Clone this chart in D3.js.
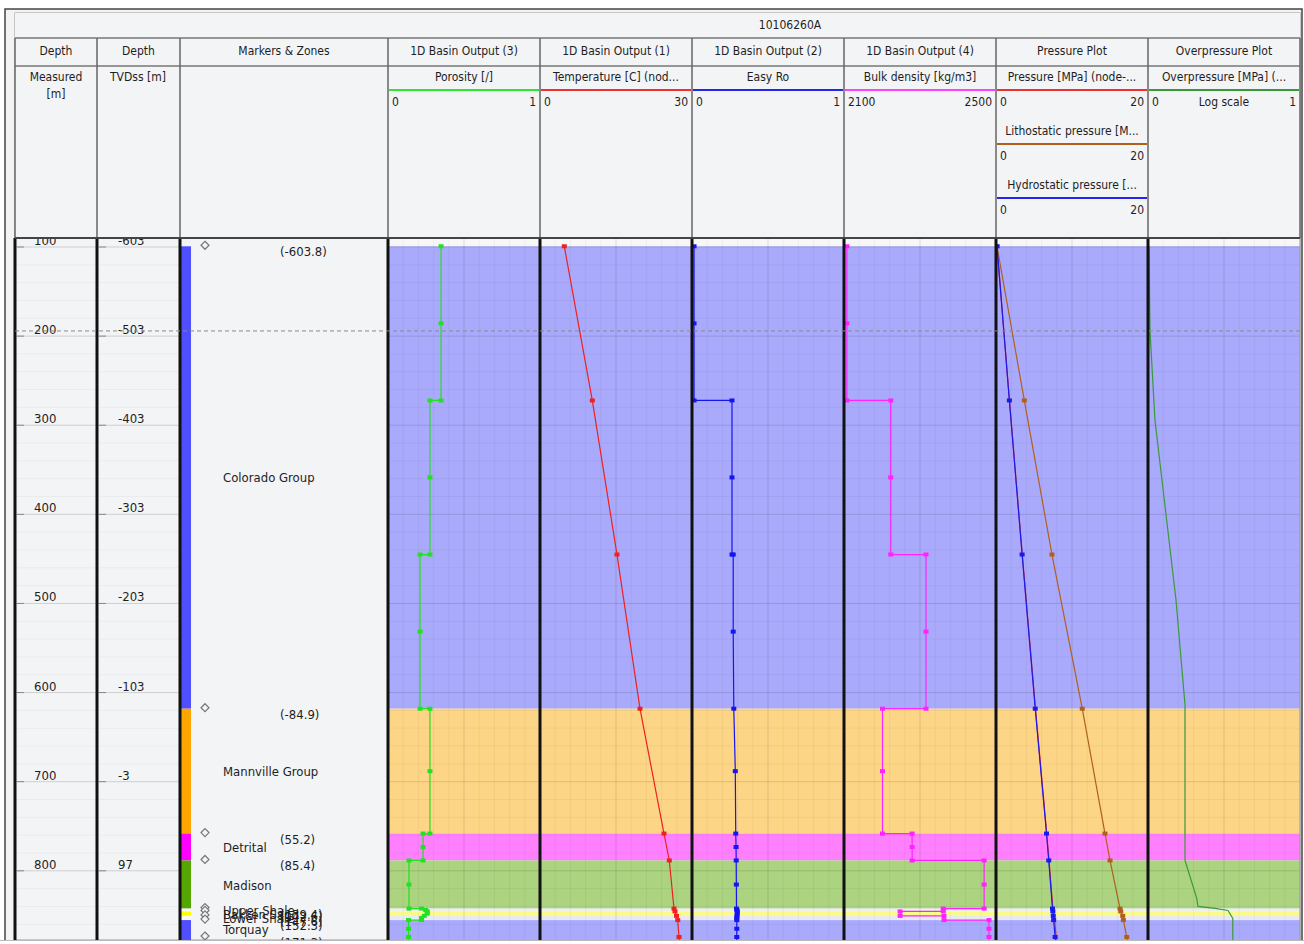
<!DOCTYPE html>
<html>
<head>
<meta charset="utf-8">
<script src="https://cdn.jsdelivr.net/npm/d3@7"></script>
<style>
  body { margin: 0; background: #fff; }
  text { font-family: "DejaVu Sans Condensed", "DejaVu Sans", sans-serif; fill: #1e1e1e; }
</style>
</head>
<body>
<div id="graph"></div>
<script>
const width = 1304, height = 944;
const wellName = "10106260A";
const kb = 703; // MD = TVDss + kb

// depth axis
const mdTicks = [100, 200, 300, 400, 500, 600, 700, 800];
const tvdTicks = ["-603", "-503", "-403", "-303", "-203", "-103", "-3", "97"];
const cursorDepth = 194.2;

// markers & zones (tops in TVDss)
const zoneNames = ["Colorado Group", "Mannville Group", "Detrital", "Madison", "Upper Shale", "Bakken Sand", "Lower Shale", "Torquay", ""];
const zoneTops = [-603.8, -84.9, 55.2, 85.4, 139.4, 142.6, 147.6, 152.3, 171.3];
const zoneStrip = ["#4f4fff", "#ffa500", "#ff00ff", "#55a600", "#f8f8f8", "#ffff00", "#f8f8f8", "#4f4fff", "#4f4fff"];
const zoneFill = ["#aaaafc", "#fdd586", "#ff80ff", "#abd380", "#efefef", "#fafa8a", "#e9e9f0", "#aaaafc", "#aaaafc"];

// columns
const colTitles = ["Depth", "Depth", "Markers & Zones", "1D Basin Output (3)", "1D Basin Output (1)", "1D Basin Output (2)", "1D Basin Output (4)", "Pressure Plot", "Overpressure Plot"];
const curveTitles = ["Porosity [/]", "Temperature [C] (nod...", "Easy Ro", "Bulk density [kg/m3]", "Pressure [MPa] (node-...", "Overpressure [MPa] (..."];
const curveColors = ["#2fe62f", "#ee3030", "#2525ee", "#ff40ff", "#ee3030", "#3a9a3a"];
const scaleMin = ["0", "0", "0", "2100", "0", "0"];
const scaleMax = ["1", "30", "1", "2500", "20", "1"];

// curves: [MD, value]
const porosity = [[99.2, 0.347], [185.7, 0.347], [272.2, 0.347], [272.2, 0.273], [358.6, 0.273], [445.1, 0.273], [445.1, 0.207], [531.6, 0.207], [618.1, 0.207], [618.1, 0.273], [688.2, 0.273], [758.2, 0.273], [758.2, 0.227], [773.3, 0.227], [788.4, 0.227], [788.4, 0.133], [815.4, 0.133], [842.4, 0.133], [842.4, 0.217], [844.0, 0.245], [845.6, 0.255], [848.1, 0.255], [850.6, 0.235], [852.9, 0.217], [855.3, 0.217], [855.3, 0.13], [865.0, 0.13], [874.3, 0.13], [884, 0.13]];
const temperature = [[99.2, 4.66], [272.2, 10.26], [445.1, 15.2], [618.1, 19.8], [758.2, 24.6], [788.4, 25.66], [842.4, 26.6], [845.6, 26.8], [850.6, 27.1], [855.3, 27.35], [874.3, 27.6], [884, 27.7]];
const easyRo = [[99.2, 0.007], [185.7, 0.007], [272.2, 0.007], [272.2, 0.26], [358.6, 0.26], [445.1, 0.26], [445.1, 0.268], [531.6, 0.268], [618.1, 0.272], [688.2, 0.282], [758.2, 0.285], [773.3, 0.287], [788.4, 0.288], [815.4, 0.289], [842.4, 0.29], [844.0, 0.293], [845.6, 0.295], [848.1, 0.295], [850.6, 0.293], [852.9, 0.292], [855.3, 0.292], [865.0, 0.292], [874.3, 0.292], [884, 0.292]];
const density = [[99.2, 2105], [185.7, 2105], [272.2, 2105], [272.2, 2222], [358.6, 2222], [445.1, 2222], [445.1, 2316], [531.6, 2316], [618.1, 2316], [618.1, 2200], [688.2, 2200], [758.2, 2200], [758.2, 2279], [773.3, 2279], [788.4, 2279], [788.4, 2471], [815.4, 2471], [842.4, 2471], [842.4, 2362], [845.6, 2362], [845.6, 2247], [850.6, 2247], [850.6, 2364], [855.3, 2364], [855.3, 2484], [865.0, 2484], [874.3, 2484], [884, 2484]];

const pressureDepths = [99.2, 272.2, 445.1, 618.1, 758.2, 788.4, 842.4, 845.6, 850.6, 855.3, 874.3, 884];
const porePressure = [0, 1.66, 3.37, 5.13, 6.63, 6.93, 7.45, 7.53, 7.62, 7.68, 7.88, 7.96];
const lithostatic = [0, 3.64, 7.33, 11.37, 14.4, 15.07, 16.4, 16.5, 16.76, 16.85, 17.3, 17.45];
const hydrostatic = [0, 1.65, 3.35, 5.1, 6.6, 6.9, 7.4, 7.45, 7.5, 7.55, 7.75, 7.83];

const overDepths = [99.2, 193, 294, 496, 613.6, 788.4, 831, 840, 842.2, 844.5, 853.5, 884];
const overpressure = [0.0100, 0.0103, 0.012, 0.0229, 0.0302, 0.0302, 0.0433, 0.045, 0.076, 0.113, 0.131, 0.131];

// layout
const cols = [15, 97, 180, 388, 540, 692, 844, 996, 1148, 1300];
const topY = 238, bottomY = 940;

let svg =
d3.select("#graph").
append("svg").
attr("width", width).
attr("height", height);

const y = d3.scaleLinear().domain([100, 800]).range([247, 870.8]);
const md = tvd => tvd + kb;

// frame + backgrounds
svg.append("rect").attr("x", 5).attr("y", 9).attr("width", 1297).attr("height", 934).
attr("fill", "#f3f3f3").attr("stroke", "#444").attr("stroke-width", 1.5);
svg.append("rect").attr("x", cols[0]).attr("y", 13).attr("width", cols[9] - cols[0]).attr("height", bottomY - 13).
attr("fill", "#f3f4f6").attr("stroke", "#999");

const defs = svg.append("defs");
for (let k = 0; k < 9; k++) {
  defs.append("clipPath").attr("id", "clip" + k).append("rect").
  attr("x", cols[k]).attr("y", topY).attr("width", cols[k + 1] - cols[k]).attr("height", bottomY - topY);
}

const zoneY = zoneTops.map(t => y(md(t)));
const zoneEnd = zoneY.map((v, i) => i < zoneY.length - 1 ? zoneY[i + 1] : bottomY);

// track fills and grids
for (let k = 3; k < 9; k++) {
  const g = svg.append("g").attr("clip-path", "url(#clip" + k + ")");
  const x0 = cols[k], x1 = cols[k + 1];
  g.append("rect").attr("x", x0).attr("y", topY).attr("width", x1 - x0).attr("height", bottomY - topY).attr("fill", "#f7f7f7");
  g.selectAll(".zone").data(zoneY).enter().append("rect").
  attr("x", x0).attr("y", d => d).attr("width", x1 - x0).attr("height", (d, i) => zoneEnd[i] - d).
  attr("fill", (d, i) => zoneFill[i]);
  g.selectAll(".hg").data(d3.range(80, 900, 20)).enter().append("line").
  attr("x1", x0).attr("x2", x1).attr("y1", d => y(d)).attr("y2", d => y(d)).
  attr("stroke", d => d % 100 === 0 ? "rgba(0,0,0,0.12)" : "rgba(0,0,0,0.045)");
  g.selectAll(".vg").data(d3.range(1, 10)).enter().append("line").
  attr("x1", d => x0 + (x1 - x0) * d / 10).attr("x2", d => x0 + (x1 - x0) * d / 10).
  attr("y1", topY).attr("y2", bottomY).
  attr("stroke", d => d === 5 ? "rgba(0,0,0,0.12)" : "rgba(0,0,0,0.045)");
}

// depth columns grid + labels
for (let k = 0; k < 2; k++) {
  const g = svg.append("g").attr("clip-path", "url(#clip" + k + ")");
  const x0 = cols[k], x1 = cols[k + 1];
  g.selectAll(".hg").data(d3.range(80, 900, 20)).enter().append("line").
  attr("x1", x0).attr("x2", x1).attr("y1", d => y(d)).attr("y2", d => y(d)).
  attr("stroke", d => d % 100 === 0 ? "#cfcfcf" : "rgba(0,0,0,0.04)");
  g.selectAll(".tk").data(mdTicks).enter().append("line").
  attr("x1", x0 + 2).attr("x2", x0 + 9).attr("y1", d => y(d)).attr("y2", d => y(d)).
  attr("stroke", "#888");
  g.selectAll(".lab").data(mdTicks).enter().append("text").
  attr("x", k === 0 ? 34 : 118).attr("y", d => y(d) - 2).
  attr("font-size", 13).
  text((d, i) => k === 0 ? d : tvdTicks[i]);
}

// markers & zones column
const mz = svg.append("g").attr("clip-path", "url(#clip2)");
mz.selectAll(".strip").data(zoneY).enter().append("rect").
attr("x", cols[2] + 1).attr("y", d => d).attr("width", 10).attr("height", (d, i) => zoneEnd[i] - d).
attr("fill", (d, i) => zoneStrip[i]);
mz.selectAll(".dia").data(zoneY).enter().append("path").
attr("d", d => "M205," + (d - 5) + "L209," + (d - 1) + "L205," + (d + 3) + "L201," + (d - 1) + "Z").
attr("fill", "#f3f4f6").attr("stroke", "#777").attr("stroke-width", 1.2);
mz.selectAll(".val").data(zoneTops).enter().append("text").
attr("x", 280).attr("y", (d, i) => zoneY[i] + 10).attr("font-size", 13).attr("fill", "#333").
text(d => "(" + d.toFixed(1) + ")");
mz.selectAll(".zn").data(zoneNames).enter().append("text").
attr("x", 223).attr("y", (d, i) => (zoneY[i] + Math.min(zoneEnd[i], bottomY)) / 2 + 5).
attr("font-size", 13).attr("fill", "#333").
text(d => d);

// curves
function trackX(k, domain, log) {
  return (log ? d3.scaleLog() : d3.scaleLinear()).domain(domain).range([cols[k] + 1, cols[k + 1] - 1]);
}
function drawCurve(k, xs, pts, color, markers) {
  const g = svg.append("g").attr("clip-path", "url(#clip" + k + ")");
  g.append("path").datum(pts).
  attr("d", d3.line().x(p => xs(p[1])).y(p => y(p[0]))).
  attr("fill", "none").attr("stroke", color).attr("stroke-width", 1.2);
  if (markers) {
    g.selectAll(".mk").data(pts).enter().append("rect").
    attr("x", p => xs(p[1]) - 2.5).attr("y", p => y(p[0]) - 2).
    attr("width", 5).attr("height", 4).attr("fill", color);
  }
}
const zip = (ds, vs) => ds.map((d, i) => [d, vs[i]]);

drawCurve(3, trackX(3, [0, 1]), porosity, "#22e022", true);
drawCurve(4, trackX(4, [0, 30]), temperature, "#ee2020", true);
drawCurve(5, trackX(5, [0, 1]), easyRo, "#1515f0", true);
drawCurve(6, trackX(6, [2100, 2500]), density, "#ff22ff", true);
const px = trackX(7, [0, 20]);
drawCurve(7, px, zip(pressureDepths, porePressure), "#ee2020", false);
drawCurve(7, px, zip(pressureDepths, lithostatic), "#b0601c", true);
drawCurve(7, px, zip(pressureDepths, hydrostatic), "#1a1aee", true);
drawCurve(8, trackX(8, [0.01, 1], true), zip(overDepths, overpressure), "#3a9a3a", false);

// column separators in data area
svg.selectAll(".sep").data(cols.slice(0, 9)).enter().append("line").
attr("x1", d => d).attr("x2", d => d).attr("y1", topY).attr("y2", bottomY).
attr("stroke", "#111").attr("stroke-width", 3);
svg.append("line").attr("x1", cols[9]).attr("x2", cols[9]).attr("y1", topY).attr("y2", bottomY).
attr("stroke", "#999").attr("stroke-width", 1);

// cursor line
svg.append("line").attr("x1", cols[0]).attr("x2", cols[9]).attr("y1", y(cursorDepth)).attr("y2", y(cursorDepth)).
attr("stroke", "#8a8a8a").attr("stroke-width", 1).attr("stroke-dasharray", "4,3");

// bottom edge
svg.append("rect").attr("x", 0).attr("y", bottomY + 1).attr("width", width).attr("height", height - bottomY).attr("fill", "#fff");
svg.append("line").attr("x1", 0).attr("x2", width).attr("y1", bottomY + 0.5).attr("y2", bottomY + 0.5).attr("stroke", "#bbb");

// header
const hd = svg.append("g");
hd.append("rect").attr("x", cols[0]).attr("y", 13).attr("width", cols[9] - cols[0]).attr("height", topY - 13).attr("fill", "#f3f4f6");
hd.append("text").attr("x", 790).attr("y", 29).attr("font-size", 12).attr("text-anchor", "middle").text(wellName);
[38, 66].forEach(v => hd.append("line").attr("x1", cols[0]).attr("x2", cols[9]).attr("y1", v).attr("y2", v).attr("stroke", "#777").attr("stroke-width", 1.5));
hd.selectAll(".hsep").data(cols).enter().append("line").
attr("x1", d => d).attr("x2", d => d).attr("y1", 38).attr("y2", topY).
attr("stroke", "#666").attr("stroke-width", 1.5);
hd.append("line").attr("x1", cols[0]).attr("x2", cols[9]).attr("y1", topY).attr("y2", topY).attr("stroke", "#444").attr("stroke-width", 2);

hd.selectAll(".ct").data(colTitles).enter().append("text").
attr("x", (d, i) => (cols[i] + cols[i + 1]) / 2).attr("y", 55).
attr("font-size", 12).attr("text-anchor", "middle").text(d => d);
hd.append("text").attr("x", 56).attr("y", 81).attr("font-size", 12).attr("text-anchor", "middle").text("Measured");
hd.append("text").attr("x", 56).attr("y", 98).attr("font-size", 12).attr("text-anchor", "middle").text("[m]");
hd.append("text").attr("x", 138).attr("y", 81).attr("font-size", 12).attr("text-anchor", "middle").text("TVDss [m]");

function curveHeader(k, title, color, lo, hi, yy) {
  const x0 = cols[k], x1 = cols[k + 1];
  hd.append("text").attr("x", (x0 + x1) / 2).attr("y", yy).attr("font-size", 12).attr("text-anchor", "middle").text(title);
  hd.append("line").attr("x1", x0 + 1).attr("x2", x1 - 1).attr("y1", yy + 9).attr("y2", yy + 9).attr("stroke", color).attr("stroke-width", 2);
  hd.append("text").attr("x", x0 + 4).attr("y", yy + 25).attr("font-size", 12).text(lo);
  hd.append("text").attr("x", x1 - 4).attr("y", yy + 25).attr("font-size", 12).attr("text-anchor", "end").text(hi);
}
curveTitles.forEach((t, i) => curveHeader(i + 3, t, curveColors[i], scaleMin[i], scaleMax[i], 81));
curveHeader(7, "Lithostatic pressure [M...", "#b0601c", "0", "20", 135);
curveHeader(7, "Hydrostatic pressure [...", "#2525ee", "0", "20", 189);
hd.append("text").attr("x", (cols[8] + cols[9]) / 2).attr("y", 106).attr("font-size", 12).attr("text-anchor", "middle").text("Log scale");
</script>
</body>
</html>
